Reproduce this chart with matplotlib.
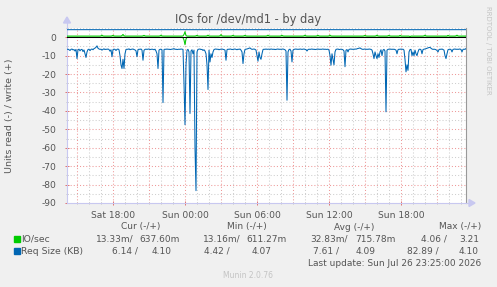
import matplotlib
matplotlib.use("Agg")
import matplotlib.pyplot as plt
import numpy as np
from matplotlib.patches import Rectangle, Polygon
from matplotlib.lines import Line2D

# ---------------- data (5-minute samples from Sat 14:10 to Sun 23:25) ----------------
start_hour = 14 + 10 / 60.0   # hours since Sat 00:00
step_hours = 5 / 60.0

# Req Size read (KB) -- drawn negative
req_read_kb = [
    6.6, 6.5, 6.8, 7.2, 6.6, 6.4, 6.9, 6.7, 7.5, 6.6, 11.6, 6.8, 6.5, 7.4, 6.7, 6.6, 7.8, 6.9, 9.0, 11.0,
    8.0, 6.7, 6.5, 7.3, 6.6, 6.4, 6.8, 6.2, 5.9, 5.5, 4.7, 6.0, 6.4, 6.6, 6.5, 7.0, 6.6, 6.3, 6.7, 6.5,
    6.6, 6.4, 6.7, 7.6, 6.8, 10.6, 6.7, 6.5, 6.6, 7.2, 6.6, 6.4, 6.8, 10.0, 15.0, 17.0, 12.0, 17.0, 9.0, 6.7,
    6.5, 6.6, 6.3, 6.8, 6.6, 6.5, 6.4, 6.7, 6.9, 7.4, 10.6, 6.8, 6.5, 6.6, 6.4, 7.0, 12.5, 7.1, 6.6, 6.5,
    6.6, 6.5, 6.4, 6.7, 6.6, 6.5, 6.6, 6.8, 6.5, 7.5, 9.0, 17.0, 7.0, 6.6, 6.5, 6.8, 35.5, 6.7, 6.5, 6.6,
    6.4, 6.6, 6.5, 6.7, 6.6, 6.5, 6.4, 6.2, 6.6, 6.5, 6.7, 6.6, 6.5, 6.6, 6.4, 6.5, 6.6, 25.0, 47.5, 15.0,
    7.0, 6.6, 8.0, 41.4, 7.5, 6.8, 9.0, 7.0, 60.0, 83.3, 8.0, 6.6, 6.5, 6.4, 6.7, 6.6, 7.2, 6.8, 7.5, 9.0,
    15.0, 28.4, 7.0, 13.4, 9.0, 11.0, 8.0, 6.7, 6.5, 6.4, 6.6, 6.5, 6.8, 6.6, 6.5, 6.4, 6.6, 6.7, 7.0, 12.5,
    6.8, 6.5, 6.6, 6.4, 6.5, 6.7, 6.6, 6.5, 6.4, 6.6, 6.8, 6.5, 6.6, 6.4, 7.0, 8.0, 14.3, 9.0, 6.6, 6.5,
    6.4, 6.2, 6.0, 5.8, 6.3, 6.6, 6.5, 6.4, 6.6, 7.0, 10.0, 13.0, 8.0, 11.0, 12.0, 9.0, 6.7, 6.5, 6.6, 6.4,
    6.6, 6.5, 6.5, 6.6, 6.4, 6.5, 6.6, 6.5, 6.7, 6.6, 6.5, 6.4, 6.6, 6.5, 6.6, 6.5, 6.4, 6.6, 6.8, 7.5,
    34.2, 8.0, 6.7, 6.5, 7.5, 13.4, 7.0, 6.6, 6.5, 6.4, 6.6, 6.5, 6.6, 6.4, 6.5, 6.6, 6.5, 6.4, 6.6, 6.7,
    7.5, 6.7, 6.5, 6.6, 6.5, 6.4, 6.6, 6.5, 6.7, 6.6, 6.5, 6.4, 6.6, 6.5, 6.6, 6.5, 6.4, 6.6, 6.5, 6.6,
    6.6, 6.5, 7.0, 10.0, 15.2, 9.0, 12.0, 15.0, 8.0, 6.6, 6.5, 6.4, 6.7, 6.6, 6.5, 6.6, 6.8, 7.5, 16.0, 7.0,
    6.7, 8.0, 6.6, 6.5, 6.4, 6.6, 6.5, 6.6, 6.4, 6.5, 6.3, 6.1, 6.0, 5.8, 6.2, 6.5, 6.6, 6.5, 6.4, 6.6,
    6.5, 6.6, 6.4, 6.5, 6.6, 7.0, 9.0, 11.6, 8.0, 10.0, 11.6, 9.0, 11.0, 8.0, 6.8, 10.0, 7.0, 6.6, 7.5, 40.5,
    7.0, 6.6, 6.5, 6.4, 6.6, 6.5, 6.6, 6.5, 6.7, 7.0, 9.0, 6.8, 6.5, 6.6, 6.4, 6.6, 6.5, 7.0, 12.0, 18.8,
    15.0, 18.0, 8.0, 6.7, 6.6, 10.0, 8.0, 10.0, 7.0, 9.0, 10.0, 8.0, 6.6, 6.5, 6.8, 9.0, 6.7, 6.5, 6.4, 6.2,
    6.0, 5.8, 5.6, 5.5, 6.0, 6.4, 6.6, 6.5, 6.6, 6.8, 7.2, 8.0, 6.7, 6.5, 6.6, 6.4, 6.7, 7.0, 10.0, 11.6,
    9.0, 6.8, 6.6, 6.5, 6.7, 8.0, 6.6, 6.5, 6.4, 6.6, 6.5, 6.6, 6.5, 6.4, 6.7, 8.0, 6.6, 6.5, 6.6, 6.14,
]

# IO/sec write (drawn positive)
io_write = [
    0.62, 0.62, 0.63, 0.62, 0.62, 0.62, 0.63, 0.62, 0.62, 0.62, 0.62, 0.62, 0.63, 0.62, 0.62, 0.62, 0.62, 0.62, 0.62, 0.62,
    0.62, 0.62, 0.63, 0.62, 0.62, 0.62, 0.62, 0.62, 0.62, 0.62, 0.62, 0.62, 0.62, 0.62, 0.75, 1.10, 0.70, 0.62, 0.62, 0.62,
    0.62, 0.62, 0.62, 0.62, 0.62, 0.75, 1.00, 0.70, 0.62, 0.62, 0.62, 0.62, 0.62, 0.62, 0.62, 0.90, 1.50, 0.80, 0.62, 0.62,
    0.62, 0.62, 0.62, 0.62, 0.62, 0.62, 0.62, 0.62, 0.62, 0.62, 0.62, 0.62, 0.62, 0.62, 0.62, 0.62, 0.75, 1.00, 0.70, 0.62,
    0.62, 0.62, 0.62, 0.62, 0.62, 0.62, 0.62, 0.62, 0.62, 0.62, 0.62, 0.62, 0.62, 0.75, 1.10, 0.70, 0.62, 0.62, 0.62, 0.62,
    0.62, 0.62, 0.62, 0.62, 0.62, 0.62, 0.62, 0.62, 0.62, 0.62, 0.62, 0.62, 0.62, 0.62, 0.62, 0.62, 0.70, 1.50, 3.00, 0.90,
    0.62, 0.62, 0.62, 0.62, 0.62, 0.62, 0.62, 0.62, 0.62, 0.75, 1.00, 0.70, 0.62, 0.62, 0.62, 0.62, 0.62, 0.62, 0.62, 0.62,
    0.75, 1.10, 0.70, 0.62, 0.62, 0.62, 0.62, 0.62, 0.62, 0.62, 0.62, 0.62, 0.62, 0.80, 1.40, 0.75, 0.62, 0.62, 0.62, 0.62,
    0.62, 0.62, 0.62, 0.62, 0.62, 0.75, 1.00, 0.70, 0.62, 0.62, 0.62, 0.62, 0.62, 0.62, 0.62, 0.62, 0.62, 0.75, 1.00, 0.70,
    0.62, 0.62, 0.62, 0.62, 0.62, 0.62, 0.62, 0.62, 0.62, 0.62, 0.62, 0.62, 0.62, 0.62, 0.62, 0.62, 0.62, 0.62, 0.62, 0.62,
    0.75, 1.10, 0.70, 0.62, 0.62, 0.62, 0.62, 0.62, 0.62, 0.62, 0.62, 0.62, 0.62, 0.62, 0.75, 1.00, 0.70, 0.62, 0.62, 0.62,
    0.62, 0.62, 0.62, 0.62, 0.62, 0.62, 0.62, 0.62, 0.62, 0.62, 0.62, 0.62, 0.62, 0.62, 0.62, 0.62, 0.62, 0.75, 1.10, 0.70,
    0.62, 0.62, 0.62, 0.62, 0.62, 0.62, 0.62, 0.62, 0.62, 0.62, 0.75, 1.00, 0.70, 0.62, 0.62, 0.62, 0.62, 0.62, 0.62, 0.62,
    0.62, 0.62, 0.75, 1.10, 0.70, 0.62, 0.62, 0.62, 0.62, 0.62, 0.62, 0.62, 0.62, 0.62, 0.62, 0.62, 0.62, 0.62, 0.62, 0.62,
    0.62, 0.62, 0.62, 0.62, 0.62, 0.62, 0.62, 0.62, 0.62, 0.62, 0.62, 0.62, 0.62, 0.62, 0.62, 0.62, 0.62, 0.75, 1.00, 0.70,
    0.62, 0.62, 0.62, 0.62, 0.62, 0.62, 0.62, 0.62, 0.62, 0.75, 1.10, 0.70, 0.62, 0.62, 0.62, 0.62, 0.62, 0.62, 0.62, 0.62,
    0.62, 0.75, 1.00, 0.70, 0.62, 0.62, 0.62, 0.62, 0.62, 0.62, 0.62, 0.62, 0.62, 1.00, 0.70, 0.62, 0.62, 0.62, 0.62, 0.62,
    0.62, 0.62, 0.62, 0.30, 0.62, 0.62, 0.62, 0.62, 0.62, 0.62, 0.62, 0.62, 0.62, 0.62, 0.62, 0.62, 0.62, 0.75, 1.10, 0.70,
    0.62, 0.62, 0.62, 0.62, 0.62, 0.62, 0.62, 0.62, 0.62, 0.62, 0.62, 0.62, 0.62, 0.62, 0.62, 0.62, 0.62, 0.62, 0.62, 0.62,
    0.62, 1.00, 0.70, 0.62, 0.62, 0.62, 0.62, 0.62, 0.62, 0.75, 1.10, 0.70, 0.62, 0.62, 0.62, 0.62, 0.62, 0.62, 0.62, 0.64,
]

# IO/sec read (drawn negative): nearly zero except around Sun 00:00
io_read_spike_index = [116, 117, 118, 119, 120]
io_read_spike_value = [0.30, 1.50, 4.06, 1.00, 0.05]
io_read_base = 0.013

# Req Size write (KB), one sample per hour
req_write_hours = [14.17, 15, 16, 17, 18, 19, 20, 21, 22, 23, 24, 25, 26, 27, 28, 29, 30, 31,
                   32, 33, 34, 35, 36, 37, 38, 39, 40, 41, 42, 43, 44, 45, 46, 47, 47.42]
req_write_kb = [4.09, 4.09, 4.10, 4.09, 4.09, 4.10, 4.09, 4.09, 4.09, 4.10, 4.09, 4.08, 4.09, 4.09,
                4.10, 4.09, 4.09, 4.09, 4.10, 4.09, 4.09, 4.09, 4.10, 4.09, 4.09, 4.09, 4.10, 4.09,
                4.09, 4.09, 4.10, 4.09, 4.09, 4.10, 4.10]

x_tick_hours = [18, 24, 30, 36, 42]
x_tick_labels = ["Sat 18:00", "Sun 00:00", "Sun 06:00", "Sun 12:00", "Sun 18:00"]
y_ticks = [0, -10, -20, -30, -40, -50, -60, -70, -80, -90]

legend_rows = [
    ("IO/sec", "#00CC00", ["13.33m/", "637.60m", "13.16m/", "611.27m", "32.83m/", "715.78m", "4.06 /", "3.21"]),
    ("Req Size (KB)", "#0066B3", ["6.14 /", "4.10", "4.42 /", "4.07", "7.61 /", "4.09", "82.89 /", "4.10"]),
]
legend_headers = ["Cur (-/+)", "Min (-/+)", "Avg (-/+)", "Max (-/+)"]

# ---------------- figure ----------------
W, H = 497, 287
BG = "#F0F0F0"
TXT = "#555555"
RED = "#EE9999"
GRY = "#CFCFCF"
fig = plt.figure(figsize=(W / 100, H / 100), dpi=100, facecolor=BG)
plt.rcParams["font.family"] = ["DejaVu Sans"]

L, R, T, B = 67, 466, 28, 203
ax = fig.add_axes([L / W, 1 - B / H, (R - L) / W, (B - T) / H])
ax.set_facecolor("white")

n = len(req_read_kb)
t = start_hour + step_hours * np.arange(n)
io_read = np.full(n, io_read_base)
io_read[io_read_spike_index] = io_read_spike_value

lw = 0.75
ax.plot(t, -io_read, color="#00CC00", lw=lw, zorder=3)
ax.plot(t, io_write, color="#00CC00", lw=lw, zorder=3)
ax.axhline(0, color="black", lw=lw, zorder=4)
ax.plot(t, -np.array(req_read_kb), color="#0066B3", lw=lw, zorder=5)
ax.plot(req_write_hours, req_write_kb, color="#0066B3", lw=lw, zorder=5)

ax.set_xlim(t[0], t[-1])
ax.set_ylim(-90, 5)

# grids
for hr in range(15, 48):
    c = RED if hr % 3 == 0 else GRY
    ax.axvline(hr, color=c, lw=0.75, ls=(0, (1, 2)), zorder=1)
for v in range(-90, 6, 5):
    c = RED if v % 10 == 0 else GRY
    ax.axhline(v, color=c, lw=0.75, ls=(0, (1, 2)), zorder=1)

ax.set_xticks(x_tick_hours)
ax.set_xticklabels(x_tick_labels)
ax.set_xticks(list(range(15, 48)), minor=True)
ax.set_yticks(y_ticks)
ax.set_yticklabels([str(v) for v in y_ticks])
ax.set_yticks(list(range(-85, 6, 10)), minor=True)
ax.tick_params(axis="both", which="major", length=3, width=0.7, direction="inout",
               color="#E07070", labelsize=6.6, labelcolor=TXT)
ax.tick_params(axis="both", which="minor", length=2, width=0.6, direction="inout",
               color="#BBBBBB")
ax.tick_params(axis="x", which="major", pad=4)
ax.tick_params(axis="y", which="major", pad=6)

ax.spines["top"].set_visible(False)
ax.spines["right"].set_color("#999999")
ax.spines["right"].set_linewidth(0.8)
ax.spines["left"].set_color("#C8C8F0")
ax.spines["bottom"].set_color("#C8C8F0")
ax.spines["left"].set_linewidth(0.8)
ax.spines["bottom"].set_linewidth(0.8)

def fx(x):
    return x / W

def fy(y):
    return 1 - y / H

# axis arrows
fig.add_artist(Line2D([fx(L), fx(L)], [fy(T), fy(22)], color="#C8C8F0", lw=0.8))
fig.add_artist(Polygon([[fx(L - 3.5), fy(23)], [fx(L + 3.5), fy(23)], [fx(L), fy(17)]],
                       closed=True, color="#C8C8F0", transform=fig.transFigure))
fig.add_artist(Line2D([fx(R), fx(470)], [fy(B), fy(B)], color="#C8C8F0", lw=0.8))
fig.add_artist(Polygon([[fx(469), fy(B - 3.5)], [fx(469), fy(B + 3.5)], [fx(475), fy(B)]],
                       closed=True, color="#C8C8F0", transform=fig.transFigure))

# title and labels
fig.text(fx(248.5), fy(19), "IOs for /dev/md1 - by day", ha="center", va="center",
         fontsize=8.3, color=TXT)
fig.text(fx(10), fy(115.5), "Units read (-) / write (+)", ha="center", va="center",
         rotation=90, fontsize=6.8, color=TXT)
fig.text(fx(488), fy(50), "RRDTOOL / TOBI OETIKER", ha="center", va="center",
         rotation=270, fontsize=5, color="#C4C4C4")

# legend
fs = 6.5
header_x = [121, 227, 334, 439]
for hx, h in zip(header_x, legend_headers):
    fig.text(fx(hx), fy(227), h, ha="left", va="center", fontsize=fs, color=TXT)

col_x = [
    [95.7, 139.3, 203.3, 246.7, 310, 355, 421, 459],
    [111.7, 151.7, 204, 251.7, 312.7, 356, 406.7, 459],
]
row_y = [239, 251]
for (name, color, vals), xs, yy in zip(legend_rows, col_x, row_y):
    fig.add_artist(Rectangle((fx(14), fy(yy + 3)), 6 / W, 6 / H, color=color,
                             transform=fig.transFigure))
    fig.text(fx(21), fy(yy), name, ha="left", va="center", fontsize=fs + 0.2, color=TXT)
    for vx, v in zip(xs, vals):
        fig.text(fx(vx), fy(yy), v, ha="left", va="center", fontsize=fs, color=TXT)

fig.text(fx(307.7), fy(263), "Last update: Sun Jul 26 23:25:00 2026", ha="left", va="center",
         fontsize=fs, color=TXT)
fig.text(fx(248), fy(275), "Munin 2.0.76", ha="center", va="center", fontsize=5.5,
         color="#C4C4C4")

fig.savefig("out.png", dpi=100, facecolor=BG)
